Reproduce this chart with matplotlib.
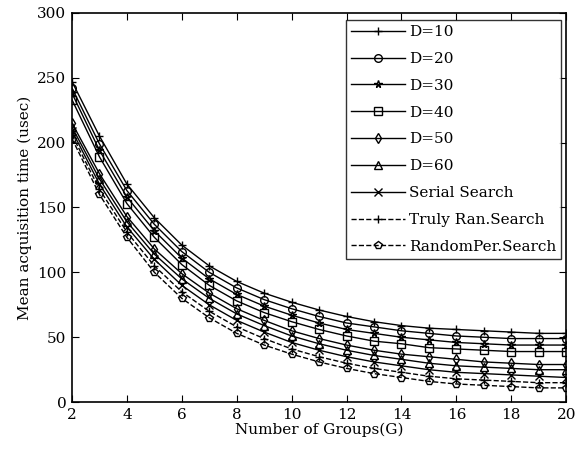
import matplotlib
matplotlib.use('Agg')
import matplotlib.pyplot as plt

plt.rcParams['font.family'] = ['DejaVu Serif', 'Liberation Serif']

groups = list(range(2, 21))

d10 = [247, 205, 168, 142, 121, 105, 93, 84, 77, 71, 66, 62, 59, 57, 56, 55, 54, 53, 53]
d20 = [242, 199, 163, 137, 116, 100, 88, 79, 72, 66, 61, 58, 55, 53, 51, 50, 49, 49, 49]
d30 = [238, 194, 158, 132, 111, 95, 83, 74, 67, 61, 56, 53, 50, 48, 46, 45, 44, 44, 44]
d40 = [233, 189, 153, 127, 106, 90, 78, 69, 62, 56, 51, 47, 45, 42, 41, 40, 39, 39, 39]
d50 = [215, 176, 143, 118, 99, 84, 72, 63, 55, 49, 44, 40, 37, 35, 33, 31, 30, 29, 29]
d60 = [212, 172, 139, 114, 95, 80, 68, 59, 51, 45, 40, 36, 33, 30, 28, 27, 26, 25, 25]
serial = [209, 168, 135, 110, 90, 75, 63, 54, 46, 40, 35, 31, 28, 25, 23, 22, 21, 20, 19]
truly_ran = [206, 164, 131, 105, 85, 70, 58, 49, 41, 35, 30, 26, 23, 20, 18, 17, 16, 15, 15]
random_per = [203, 160, 127, 100, 80, 65, 53, 44, 37, 31, 26, 22, 19, 16, 14, 13, 12, 11, 11]

series = [
    (d10, '+', '-', 'D=10'),
    (d20, 'o', '-', 'D=20'),
    (d30, '*', '-', 'D=30'),
    (d40, 's', '-', 'D=40'),
    (d50, 'd', '-', 'D=50'),
    (d60, '^', '-', 'D=60'),
    (serial, 'x', '-', 'Serial Search'),
    (truly_ran, '+', '--', 'Truly Ran.Search'),
    (random_per, 'p', '--', 'RandomPer.Search'),
]

fig = plt.figure(figsize=(5.76, 4.57), dpi=100)
ax = fig.add_axes([0.125, 0.12, 0.858, 0.852])

for vals, mk, ls, lab in series:
    ax.plot(groups, vals, color='black', linestyle=ls, linewidth=1.0,
            marker=mk, markersize=5.5, markerfacecolor='none',
            markeredgecolor='black', markeredgewidth=1.0, label=lab)

ax.set_xlim(2, 20)
ax.set_ylim(0, 300)
ax.set_xticks(range(2, 21, 2))
ax.set_yticks(range(0, 301, 50))
ax.tick_params(direction='in', top=True, right=True, labelsize=11, length=5, pad=4)
for sp in ax.spines.values():
    sp.set_linewidth(1.2)

ax.set_xlabel('Number of Groups(G)', fontsize=11, labelpad=1)
ax.set_ylabel('Mean acquisition time (usec)', fontsize=11, labelpad=4)

leg = ax.legend(loc='upper right', bbox_to_anchor=(0.99, 0.982), fontsize=11,
                frameon=True, fancybox=False, edgecolor='black',
                labelspacing=0.84, handlelength=3.5, borderpad=0.35,
                handletextpad=0.25, borderaxespad=0.0)
leg.get_frame().set_linewidth(1.0)

fig.savefig('out.png', dpi=100)
